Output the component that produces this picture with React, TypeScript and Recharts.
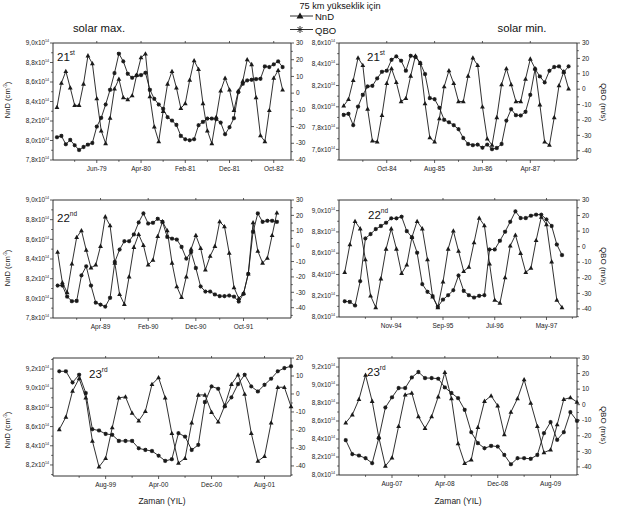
import React from 'react';
import { ComposedChart, Line, XAxis, YAxis } from 'recharts';

const FONT = '"Liberation Sans", Arial, Helvetica, sans-serif';
const INK = '#1a1a1a';
const AXIS = '#333';

// cycle 21, solar max (monthly, Sep-78 .. Dec-82)
const start21Max = 'Sep-78';
const months21Max = ['Jun-79', 'Apr-80', 'Feb-81', 'Dec-81', 'Oct-82'];
const nnd21Max = [
  8.34, 8.59, 8.71, 8.54, 8.36, 8.36, 8.58, 8.87, 8.79, 8.43,
  8.10, 7.97, 8.23, 8.53, 8.63, 8.44, 8.42, 8.46, 8.67, 8.85,
  8.89, 8.45, 8.14, 7.99, 8.30, 8.58, 8.71, 8.54, 8.33, 8.38,
  8.62, 8.82, 8.73, 8.38, 8.10, 7.97, 8.24, 8.51, 8.64, 8.52,
  8.31, 8.51, 8.61, 8.83, 8.78, 8.44, 8.05, 7.99, 8.31, 8.64,
  8.72, 8.52,
];
const qbo21Max = [
  -26.4, -25.6, -30.6, -28.0, -31.2, -34.0, -32.2, -30.8, -29.8, -20.0,
  -14.8, -6.8, 2.0, 12.0, 23.6, 19.0, 11.6, 9.2, 10.6, 10.8,
  12.2, 2.0, -3.4, -6.8, -9.4, -14.4, -16.4, -19.0, -25.6, -27.6,
  -28.2, -27.6, -19.2, -17.2, -15.2, -15.2, -15.6, -17.6, -24.6, -20.4,
  -15.0, 0.6, 5.6, 7.6, 8.0, 8.4, 8.6, 16.0, 15.6, 17.2,
  19.0, 15.6,
];

// cycle 21, solar min (Jan-84 .. Dec-87)
const start21Min = 'Jan-84';
const months21Min = ['Oct-84', 'Aug-85', 'Jun-86', 'Apr-87'];
const nnd21Min = [
  8.01, 8.07, 8.25, 8.46, 8.39, 7.98, 7.68, 7.67, 7.92, 8.22,
  8.36, 8.23, 8.05, 8.08, 8.29, 8.48, 8.41, 8.03, 7.71, 7.67,
  7.89, 8.19, 8.34, 8.22, 8.05, 8.05, 8.29, 8.46, 8.39, 8.00,
  7.70, 7.64, 7.90, 8.21, 8.36, 8.21, 8.05, 8.05, 8.26, 8.45,
  8.36, 8.02, 7.67, 7.64, 7.90, 8.20, 8.33, 8.17,
];
const qbo21Min = [
  -16.7, -16.0, -23.4, -11.3, -3.7, 1.8, 2.2, 7.0, 11.3, 12.0,
  19.1, 21.3, 18.5, 12.0, 21.7, 20.9, 17.0, 9.8, -5.8, -6.5,
  -12.1, -19.9, -21.5, -23.4, -26.0, -31.7, -35.6, -36.4, -36.0, -38.0,
  -36.0, -39.0, -38.2, -35.6, -20.4, -13.0, -16.9, -17.1, -14.7, -3.7,
  13.1, 8.3, 4.4, 12.0, 14.4, 14.8, 11.1, 14.8,
];

// cycle 22, solar max (Jul-88 .. May-92)
const start22Max = 'Jul-88';
const months22Max = ['Apr-89', 'Feb-90', 'Dec-90', 'Oct-91'];
const nnd22Max = [
  8.47, 8.16, 8.06, 8.35, 8.62, 8.69, 8.49, 8.31, 8.34, 8.53,
  8.83, 8.74, 8.36, 8.04, 7.94, 8.22, 8.52, 8.65, 8.54, 8.34,
  8.39, 8.63, 8.78, 8.69, 8.36, 8.12, 8.01, 8.22, 8.50, 8.64,
  8.51, 8.29, 8.43, 8.53, 8.78, 8.73, 8.46, 8.11, 8.00, 8.05,
  8.25, 8.77, 8.48, 8.36, 8.41, 8.64, 8.87,
];
const qbo22Max = [
  -25.6, -25.6, -32.8, -35.8, -35.6, -19.0, -13.1, -25.6, -36.7, -38.0,
  -39.3, -33.6, -10.3, -2.2, 3.2, 3.2, 7.6, 15.4, 21.3, 14.7,
  15.2, 17.8, 15.8, 6.0, 4.9, 4.3, -0.5, -8.1, -3.8, -14.2,
  -26.2, -29.5, -29.5, -31.4, -32.5, -32.5, -32.1, -32.8, -36.0, -31.0,
  -17.9, 9.3, 21.3, 15.8, 16.5, 16.5, 15.8,
];

// cycle 22, solar min (Feb-94 .. Aug-97)
const start22Min = 'Feb-94';
const months22Min = ['Nov-94', 'Sep-95', 'Jul-96', 'May-97'];
const nnd22Min = [
  8.42, 8.68, 8.90, 8.83, 8.54, 8.20, 8.09, 8.36, 8.64, 8.83,
  8.64, 8.41, 8.49, 8.75, 8.90, 8.83, 8.54, 8.19, 8.09, 8.33,
  8.64, 8.81, 8.62, 8.43, 8.47, 8.70, 8.93, 8.86, 8.50, 8.16,
  8.13, 8.37, 8.67, 8.77, 8.60, 8.42, 8.46, 8.72, 8.94, 8.87,
  8.52, 8.16, 8.09,
];
const qbo22Min = [
  -35.1, -35.5, -37.8, -22.2, 5.3, 8.1, 11.3, 13.3, 15.4, 18.2,
  18.2, 19.3, 10.0, 6.0, -3.9, -24.1, -29.0, -31.8, -38.7, -34.0,
  -31.2, -28.0, -18.5, -28.4, -31.2, -32.7, -31.6, -31.2, -1.8, -1.8,
  3.8, 9.6, 16.0, 22.7, 18.4, 18.4, 19.9, 20.6, 20.6, 17.5,
  13.3, 1.4, -5.4,
];

// cycle 23, solar max (Jan-99 .. Dec-01)
const start23Max = 'Jan-99';
const months23Max = ['Aug-99', 'Apr-00', 'Dec-00', 'Aug-01'];
const nnd23Max = [
  8.57, 8.70, 8.97, 9.10, 8.90, 8.45, 8.18, 8.27, 8.59, 8.90,
  8.91, 8.74, 8.66, 8.76, 9.04, 9.11, 8.90, 8.53, 8.22, 8.27,
  8.64, 8.93, 8.93, 8.75, 8.65, 8.82, 9.04, 9.14, 8.94, 8.53,
  8.24, 8.29, 8.64, 9.01, 9.01, 8.81,
];
const qbo23Max = [
  12.6, 12.6, 6.4, 10.7, 0.5, -19.6, -20.3, -22.2, -22.7, -26.1,
  -26.1, -26.1, -30.2, -31.1, -31.7, -34.3, -37.2, -36.3, -21.8, -23.7,
  -31.1, -28.3, -4.5, 4.2, 2.9, -6.9, -1.9, 5.5, 10.7, 4.2,
  1.4, 5.1, 8.5, 12.6, 14.4, 15.4,
];

// cycle 23, solar min (Jan-07 .. Dec-09)
const start23Min = 'Jan-07';
const months23Min = ['Aug-07', 'Apr-08', 'Dec-08', 'Aug-09'];
const nnd23Min = [
  8.58, 8.67, 8.84, 9.11, 8.82, 8.42, 8.10, 8.19, 8.54, 8.89,
  8.91, 8.65, 8.52, 8.65, 8.87, 9.14, 8.85, 8.35, 8.13, 8.17,
  8.53, 8.82, 8.88, 8.77, 8.45, 8.70, 8.85, 9.06, 8.80, 8.54,
  8.25, 8.28, 8.56, 8.84, 8.86, 8.81,
];
const qbo23Min = [
  -22.8, -31.8, -32.7, -34.4, -37.6, -21.5, -1.8, 4.7, 10.7, 10.7,
  17.5, 21.0, 17.1, 17.1, 16.7, 11.1, 7.5, 4.2, -3.3, -17.7,
  -24.7, -28.0, -26.5, -26.9, -32.3, -38.3, -34.4, -34.4, -34.8, -32.3,
  -18.3, -11.2, -22.6, -17.7, -4.8, -10.4,
];

// axis tick labels
const nndTicksA = [7.8, 8.0, 8.2, 8.4, 8.6, 8.8, 9.0];
const nndTicksB = [7.6, 7.8, 8.0, 8.2, 8.4, 8.6];
const nndTicksC = [8.0, 8.2, 8.4, 8.6, 8.8, 9.0];
const nndTicksD = [8.2, 8.4, 8.6, 8.8, 9.0, 9.2];
const nndTicksE = [8.0, 8.2, 8.4, 8.6, 8.8, 9.0, 9.2];
const qboTicks = [-40, -30, -20, -10, 0, 10, 20, 30];
const qboTicksShort = [-40, -30, -20, -10, 0, 10, 20];

const MON = ['Jan', 'Feb', 'Mar', 'Apr', 'May', 'Jun', 'Jul', 'Aug', 'Sep', 'Oct', 'Nov', 'Dec'];
const monthNo = (s: string) => {
  const [m, y] = s.split('-');
  const yy = Number(y);
  return (yy < 50 ? 2000 + yy : 1900 + yy) * 12 + MON.indexOf(m);
};

const stepTicks = (lo: number, hi: number, step: number) => {
  const out: number[] = [];
  for (let k = Math.ceil(lo / step - 1e-6); k * step <= hi + 1e-6; k++) out.push(Math.round(k * step * 1000) / 1000);
  return out;
};
const has = (arr: number[], v: number) => arr.some((a) => Math.abs(a - v) < 1e-6);

const LeftTick = ({ x, y, payload, majors }: any) => {
  const major = has(majors, payload.value);
  return (
    <g>
      <line x1={x - (major ? 3 : 1.8)} x2={x} y1={y} y2={y} stroke={AXIS} strokeWidth={0.8} />
      {major && (
        <text x={x - 4} y={y + 2.2} textAnchor="end" fontSize={6.4} fill="#222" fontFamily={FONT}>
          {payload.value.toFixed(1).replace('.', ',')}x10
          <tspan fontSize={3.6} dy={-3}>14</tspan>
        </text>
      )}
    </g>
  );
};

const RightTick = ({ x, y, payload, majors }: any) => {
  const major = has(majors, payload.value);
  return (
    <g>
      <line x1={x} x2={x + (major ? 3 : 1.8)} y1={y} y2={y} stroke={AXIS} strokeWidth={0.8} />
      {major && (
        <text x={x + 5} y={y + 2.2} textAnchor="start" fontSize={6.5} fill="#222" fontFamily={FONT}>
          {payload.value}
        </text>
      )}
    </g>
  );
};

const BottomTick = ({ x, y, payload, majors, labels }: any) => {
  const k = majors.indexOf(payload.value);
  return (
    <g>
      <line x1={x} x2={x} y1={y} y2={y + (k >= 0 ? 3 : 1.8)} stroke={AXIS} strokeWidth={0.8} />
      {k >= 0 && (
        <text x={x} y={y + 10.5} textAnchor="middle" fontSize={6.5} fill="#222" fontFamily={FONT}>
          {labels[k]}
        </text>
      )}
    </g>
  );
};

const TopTick = ({ x, y }: any) => (
  <line x1={x} x2={x} y1={y} y2={y - 2} stroke={AXIS} strokeWidth={0.8} />
);

const TriDot = ({ cx, cy }: any) =>
  cx == null ? null : (
    <path d={`M${cx},${cy - 2.6}L${cx + 2.4},${cy + 1.7}L${cx - 2.4},${cy + 1.7}Z`} fill={INK} />
  );

const StarDot = ({ cx, cy }: any) =>
  cx == null ? null : (
    <g stroke={INK} strokeWidth={0.7}>
      <rect x={cx - 1.3} y={cy - 1.3} width={2.6} height={2.6} fill={INK} />
      <line x1={cx - 2.2} x2={cx + 2.2} y1={cy} y2={cy} />
      <line x1={cx} x2={cx} y1={cy - 2.2} y2={cy + 2.2} />
    </g>
  );

const AXL = 50;
const AXR = 30;
const XH = 20;
const TOPH = 6;

function Panel({ box, start, months, nnd, qbo, xDomain, leftDomain, leftMajors, rightDomain, rightMajors }: any) {
  const s = monthNo(start);
  const data = nnd.map((v: number, i: number) => ({ i, nnd: v, qbo: qbo[i] }));
  const xMajors = months.map((m: string) => monthNo(m) - s);
  const step = xMajors[1] - xMajors[0];
  const xMinors: number[] = [];
  for (let v = xMajors[0] - step / 2; v < xDomain[1]; v += step) if (v > xDomain[0]) xMinors.push(v);
  const xTicks = [...xMajors, ...xMinors].sort((a, b) => a - b);
  const leftTicks = stepTicks(leftDomain[0], leftDomain[1], 0.1);
  const rightTicks = stepTicks(rightDomain[0], rightDomain[1], 5);

  return (
    <div style={{ position: 'absolute', left: box.x - AXL, top: box.y - TOPH }}>
      <ComposedChart
        width={AXL + box.w + AXR}
        height={TOPH + box.h + XH}
        data={data}
        margin={{ top: 0, right: 0, bottom: 0, left: 0 }}
      >
        <XAxis
          xAxisId="b"
          dataKey="i"
          type="number"
          domain={xDomain}
          ticks={xTicks}
          interval={0}
          height={XH}
          tickSize={0}
          tickMargin={0}
          tickLine={false}
          stroke={AXIS}
          tick={(t: any) => <BottomTick {...t} majors={xMajors} labels={months} />}
        />
        <XAxis
          xAxisId="t"
          dataKey="i"
          orientation="top"
          type="number"
          domain={xDomain}
          ticks={xMajors}
          interval={0}
          height={TOPH}
          tickSize={0}
          tickMargin={0}
          tickLine={false}
          stroke={AXIS}
          tick={(t: any) => <TopTick {...t} />}
        />
        <YAxis
          yAxisId="l"
          type="number"
          domain={leftDomain}
          ticks={leftTicks}
          interval={0}
          width={AXL}
          tickSize={0}
          tickMargin={0}
          tickLine={false}
          stroke={AXIS}
          tick={(t: any) => <LeftTick {...t} majors={leftMajors} />}
        />
        <YAxis
          yAxisId="r"
          orientation="right"
          type="number"
          domain={rightDomain}
          ticks={rightTicks}
          interval={0}
          width={AXR}
          tickSize={0}
          tickMargin={0}
          tickLine={false}
          stroke={AXIS}
          tick={(t: any) => <RightTick {...t} majors={rightMajors} />}
        />
        <Line
          xAxisId="b"
          yAxisId="l"
          dataKey="nnd"
          stroke={INK}
          strokeWidth={0.9}
          dot={<TriDot />}
          activeDot={false}
          isAnimationActive={false}
        />
        <Line
          xAxisId="b"
          yAxisId="r"
          dataKey="qbo"
          stroke={INK}
          strokeWidth={0.9}
          dot={<StarDot />}
          activeDot={false}
          isAnimationActive={false}
        />
      </ComposedChart>
    </div>
  );
}

const PANELS = [
  { id: 'p1', box: { x: 53, y: 43, w: 238, h: 117 }, start: start21Max, months: months21Max, nnd: nnd21Max, qbo: qbo21Max,
    xDomain: [-0.9, 52.9], leftDomain: [7.8, 9.0], leftMajors: nndTicksA, rightDomain: [-40, 30], rightMajors: qboTicks },
  { id: 'p2', box: { x: 339, y: 43, w: 238, h: 117 }, start: start21Min, months: months21Min, nnd: nnd21Min, qbo: qbo21Min,
    xDomain: [-0.98, 48.76], leftDomain: [7.5, 8.6], leftMajors: nndTicksB, rightDomain: [-46, 30], rightMajors: qboTicks },
  { id: 'p3', box: { x: 53, y: 200, w: 238, h: 118 }, start: start22Max, months: months22Max, nnd: nnd22Max, qbo: qbo22Max,
    xDomain: [-0.97, 48.96], leftDomain: [7.8, 9.0], leftMajors: nndTicksA, rightDomain: [-46.7, 30], rightMajors: qboTicks },
  { id: 'p4', box: { x: 339, y: 200, w: 238, h: 117 }, start: start22Min, months: months22Min, nnd: nnd22Min, qbo: qbo22Min,
    xDomain: [-1.1, 44.9], leftDomain: [8.0, 9.1], leftMajors: nndTicksC, rightDomain: [-45.2, 30], rightMajors: qboTicks },
  { id: 'p5', box: { x: 53, y: 358, w: 238, h: 118 }, start: start23Max, months: months23Max, nnd: nnd23Max, qbo: qbo23Max,
    xDomain: [-0.95, 35], leftDomain: [8.085, 9.315], leftMajors: nndTicksD, rightDomain: [-45.6, 20], rightMajors: qboTicksShort },
  { id: 'p6', box: { x: 339, y: 358, w: 238, h: 117 }, start: start23Min, months: months23Min, nnd: nnd23Min, qbo: qbo23Min,
    xDomain: [-1.02, 35], leftDomain: [8.0, 9.3], leftMajors: nndTicksE, rightDomain: [-45.2, 30], rightMajors: qboTicks },
];

const CYCLES = [
  { n: '21', sup: 'st', x: 57, y: 61 },
  { n: '21', sup: 'st', x: 367, y: 61 },
  { n: '22', sup: 'nd', x: 57, y: 222 },
  { n: '22', sup: 'nd', x: 368, y: 219 },
  { n: '23', sup: 'rd', x: 89, y: 378 },
  { n: '23', sup: 'rd', x: 367, y: 376 },
];

const NND_TITLES = [100, 268, 430];
const QBO_TITLES = [102, 266, 425];

export default function App() {
  return (
    <div
      style={{
        position: 'fixed',
        left: 0,
        top: 0,
        width: 617,
        height: 507,
        background: '#fff',
        overflow: 'hidden',
        fontFamily: FONT,
      }}
    >
      {PANELS.map((p) => (
        <Panel key={p.id} {...p} />
      ))}
      <svg
        width={617}
        height={507}
        style={{ position: 'absolute', left: 0, top: 0, pointerEvents: 'none' }}
        fontFamily={FONT}
      >
        <text x={99} y={31.5} textAnchor="middle" fontSize={11.3} fill="#111">solar max.</text>
        <text x={522} y={31.5} textAnchor="middle" fontSize={11.3} fill="#111">solar min.</text>

        {/* legend */}
        <text x={340} y={8.5} textAnchor="middle" fontSize={9.2} fill="#111">75 km yükseklik için</text>
        <line x1={290} x2={313} y1={16} y2={16} stroke={INK} strokeWidth={0.9} />
        <path d="M300,12.5L303.5,18.5L296.5,18.5Z" fill={INK} />
        <text x={315} y={20} fontSize={9.5} fill="#111">NnD</text>
        <line x1={290} x2={313} y1={29.5} y2={29.5} stroke={INK} strokeWidth={0.9} />
        <g stroke={INK} strokeWidth={0.9}>
          <line x1={296.5} x2={303.5} y1={29.5} y2={29.5} />
          <line x1={300} x2={300} y1={26} y2={33} />
          <line x1={297.5} x2={302.5} y1={27} y2={32} />
          <line x1={297.5} x2={302.5} y1={32} y2={27} />
        </g>
        <text x={315} y={33.5} fontSize={9.5} fill="#111">QBO</text>

        {CYCLES.map((c, i) => (
          <text key={i} x={c.x} y={c.y} fontSize={11.5} fill="#111">
            {c.n}
            <tspan fontSize={6.5} dy={-6}>{c.sup}</tspan>
          </text>
        ))}

        {NND_TITLES.map((cy, i) => (
          <text key={i} transform={`translate(10,${cy}) rotate(-90)`} textAnchor="middle" fontSize={7.6} fill="#222">
            NnD (cm<tspan fontSize={4.5} dy={-3}>-3</tspan>
            <tspan dy={3}>)</tspan>
          </text>
        ))}
        {QBO_TITLES.map((cy, i) => (
          <text key={i} transform={`translate(601,${cy}) rotate(90)`} textAnchor="middle" fontSize={8} fill="#222">
            QBO (m/s)
          </text>
        ))}

        <text x={162} y={503.5} textAnchor="middle" fontSize={8.5} fill="#222">Zaman (YIL)</text>
        <text x={458} y={503.5} textAnchor="middle" fontSize={8.5} fill="#222">Zaman (YIL)</text>
      </svg>
    </div>
  );
}
